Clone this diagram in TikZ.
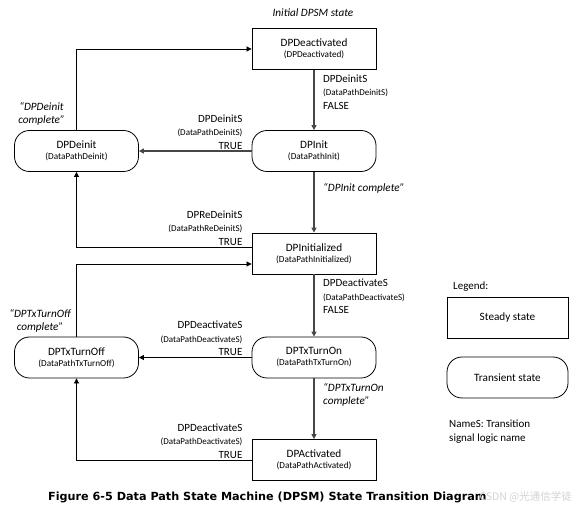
\documentclass[tikz,border=0pt]{standalone}
\usepackage{fontspec}
\setmainfont{Carlito}
\newfontfamily\capfont{DejaVu Sans}
\newfontfamily\cjkfont{Noto Sans CJK SC}
\usetikzlibrary{arrows.meta,positioning,calc}

\newcommand\smallfnt{\fontsize{9}{13.5}\selectfont}
\newcommand\boxsmall{\fontsize{9.2}{11}\selectfont}

\begin{document}
\begin{tikzpicture}[
  x=1pt, y=-1pt,
  steady/.style={rectangle, draw, line width=0.8pt, minimum width=124pt, minimum height=41pt,
                 align=center, inner sep=0pt, fill=white, font=\fontsize{11.2}{11}\selectfont},
  transient/.style={steady, rounded corners=15pt},
  arrow/.style={-{Triangle[length=5pt, width=5pt]}, line width=0.7pt},
  mainarrow/.style={arrow, draw=gray!55!black, line width=1.5pt},
  sig/.style={inner sep=0pt, font=\fontsize{11}{13.5}\selectfont},
  note/.style={inner sep=0pt, font=\fontsize{11.2}{13}\selectfont\itshape},
]
\useasboundingbox (0,0) rectangle (576,510);

% === STATES ===
\node[note] (initial) at (313,13) {Initial DPSM state};
\node[steady] (deact) at (314,49) {DPDeactivated\\{\boxsmall (DPDeactivated)}};
\node[transient] (deinit) at (76.5,151) {DPDeinit\\{\boxsmall (DataPathDeinit)}};
\node[transient] (init) at (314,151) {DPInit\\{\boxsmall (DataPathInit)}};
\node[steady] (initd) at (314,253.5) {DPInitialized\\{\boxsmall (DataPathInitialized)}};
\node[transient] (txon) at (314,357.5) {DPTxTurnOn\\{\boxsmall (DataPathTxTurnOn)}};
\node[transient] (txoff) at (76.5,357.5) {DPTxTurnOff\\{\boxsmall (DataPathTxTurnOff)}};
\node[steady] (act) at (314,460) {DPActivated\\{\boxsmall (DataPathActivated)}};

% === TRANSITIONS ===
\draw[mainarrow] (deact) -- (init);
\node[sig, align=left, anchor=north west] (s1) at ([xshift=9pt, yshift=-4.5pt]deact.south)
  {DPDeinitS\\{\smallfnt (DataPathDeinitS)}\\FALSE};

\draw[mainarrow, line width=1.3pt] (init) -- (deinit);
\node[sig, align=right, anchor=south east] (s2) at ([xshift=-9pt, yshift=1.5pt]init.west)
  {DPDeinitS\\{\smallfnt (DataPathDeinitS)}\\TRUE};

\draw[arrow] (deinit.north) |- (deact.west);
\node[note, align=center] (n1) at (41.5,113.5) {“DPDeinit\\complete”};

\draw[mainarrow] (init) -- (initd);
\node[note, anchor=west] (n2) at (323,188) {“DPInit complete”};

\coordinate (reup) at ([yshift=6.5pt]initd.west);
\coordinate (offin) at ([yshift=-10.5pt]initd.west);
\draw[arrow] (reup) -| (deinit.south);
\node[sig, align=right, anchor=south east] (s3) at ([xshift=-9pt, yshift=1.5pt]reup)
  {DPReDeinitS\\{\smallfnt (DataPathReDeinitS)}\\TRUE};

\draw[arrow] (txoff.north) |- (offin);
\node[note, align=center] (n3) at (40,321) {“DPTxTurnOff\\complete”};

\draw[mainarrow] (initd) -- (txon);
\node[sig, align=left, anchor=north west] (s4) at ([xshift=9pt, yshift=-4.5pt]initd.south)
  {DPDeactivateS\\{\smallfnt (DataPathDeactivateS)}\\FALSE};

\draw[arrow] (txon) -- (txoff);
\node[sig, align=right, anchor=south east] (s5) at ([xshift=-9pt, yshift=1.5pt]txon.west)
  {DPDeactivateS\\{\smallfnt (DataPathDeactivateS)}\\TRUE};

\draw[mainarrow] (txon) -- (act);
\node[note, align=left, anchor=west] (n4) at (323,395) {“DPTxTurnOn\\complete”};

\draw[arrow] (act.west) -| (txoff.south);
\node[sig, align=right, anchor=south east] (s6) at ([xshift=-9pt, yshift=1.5pt]act.west)
  {DPDeactivateS\\{\smallfnt (DataPathDeactivateS)}\\TRUE};

% === LEGEND ===
\node[sig, anchor=west] (legend) at (453,287) {Legend:};
\node[steady, minimum width=121pt] (legsteady) at (507.5,317.5) {Steady state};
\node[transient, minimum width=121pt] (legtrans) at (507.5,377.5) {Transient state};
\node[sig, align=left, anchor=north west] (legname) at (449,420) {NameS: Transition\\signal logic name};

% === CAPTION ===
\node[inner sep=0pt, anchor=west, font=\capfont\bfseries\fontsize{11.2}{13}\selectfont] (caption) at (48,497)
  {Figure 6-5 Data Path State Machine (DPSM) State Transition Diagram};
\node[inner sep=0pt, anchor=east, text=gray!35, font=\cjkfont\fontsize{10.5}{12}\selectfont] (mark) at (572,497)
  {CSDN @光通信学徒};
\end{tikzpicture}
\end{document}
